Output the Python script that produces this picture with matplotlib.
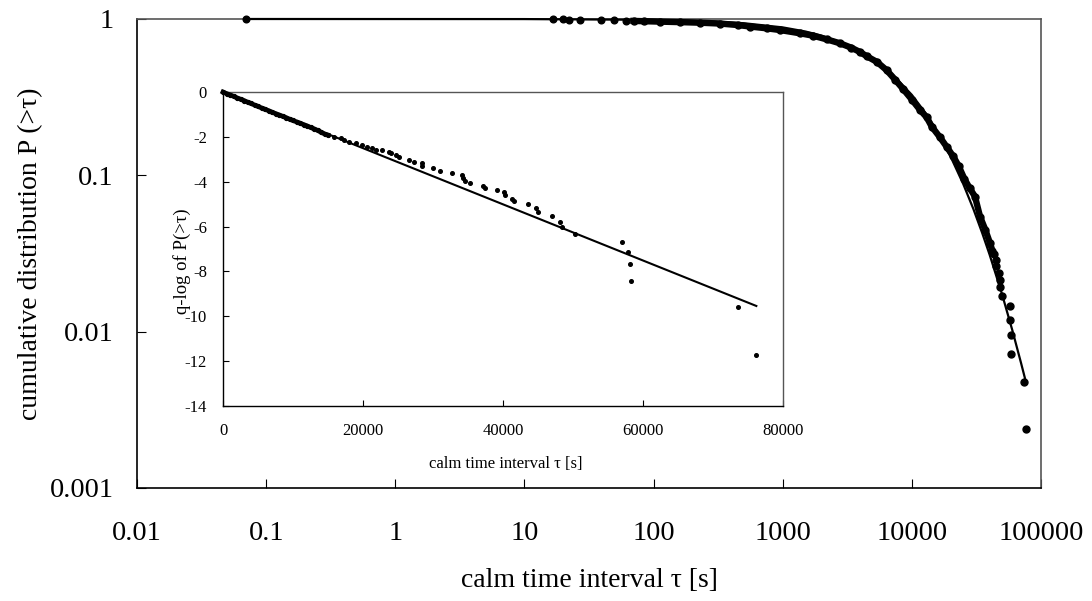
import matplotlib
matplotlib.use("Agg")
import matplotlib.pyplot as plt
from matplotlib.ticker import FixedLocator, FixedFormatter, NullLocator

plt.rcParams['font.family'] = ['Liberation Serif', 'DejaVu Serif']

# ---------------- data ----------------
# main plot: sparse points near P = 1
top_tau = [0.07, 16.5, 20, 22, 27, 39, 49, 61]
top_P = [1.0, 0.997, 0.993, 0.99, 0.99, 0.985, 0.98, 0.975]

# main plot: dense band of data points
band_tau = [70, 85, 112, 160, 229, 327, 450, 558, 750, 953, 1361, 1718, 2200,
            2780, 3400, 3970, 4470, 5375, 6386, 7400, 8590, 10000, 11560,
            13030, 14250, 16520, 18620, 20950, 23000, 25500, 28000, 30830,
            33720, 37000, 40300, 42000]
band_P = [0.972, 0.968, 0.962, 0.955, 0.947, 0.935, 0.915, 0.895, 0.872, 0.85,
          0.81, 0.782, 0.74, 0.699, 0.655, 0.615, 0.578, 0.531, 0.47, 0.41,
          0.355, 0.305, 0.262, 0.235, 0.205, 0.175, 0.152, 0.132, 0.115,
          0.095, 0.083, 0.0731, 0.0545, 0.045, 0.0368, 0.033]

# main plot: tail points
tail_tau = [43614, 44714, 45047, 47047, 48190, 48380, 50238, 57047, 57900,
            58100, 58286, 73614, 76095]
tail_P = [0.0313, 0.0289, 0.0262, 0.0239, 0.0214, 0.0194, 0.0168, 0.0145,
          0.0119, 0.0095, 0.0072, 0.00474, 0.00238]

# main plot: fitted curve
fit_tau = [0.07, 10, 100, 300, 500, 1000, 1500, 2000, 3000, 4000, 5000, 7000,
           10000, 12500, 15000, 20000, 25000, 30000, 35000, 40000, 50000,
           60000, 70000, 76190]
fit_P = [1.0, 0.9988, 0.9876, 0.9633, 0.9397, 0.8837, 0.8317, 0.7832, 0.6962,
         0.6205, 0.5543, 0.4461, 0.3271, 0.2562, 0.2030, 0.1313, 0.0880,
         0.0607, 0.0429, 0.0311, 0.0173, 0.0102, 0.00632, 0.00481]

# inset: dense band
in_band_tau = [0, 500, 1000, 1500, 2000, 2500, 3000, 3500, 4000, 4500, 5000,
               5500, 6000, 6500, 7000, 7500, 8000, 8500, 9000, 9500, 10000,
               10500, 11000, 11500, 12000, 12500, 13000, 13500, 14000, 14500,
               15000]
in_band_q = [0.0, -0.07, -0.13, -0.19, -0.26, -0.32, -0.38, -0.45, -0.51,
             -0.58, -0.64, -0.71, -0.77, -0.83, -0.90, -0.96, -1.02, -1.08,
             -1.14, -1.21, -1.27, -1.33, -1.39, -1.45, -1.51, -1.58, -1.64,
             -1.71, -1.79, -1.87, -1.92]

# inset: scattered points
in_tau = [15857, 16810, 17286, 18000, 18952, 19905, 20619, 21333, 21810,
          22762, 23714, 23952, 24667, 25143, 26571, 27286, 28476, 28381,
          30000, 30952, 32762, 34095, 34286, 34500, 35286, 37143, 37400,
          39190, 40095, 40300, 41238, 41571, 43614, 44714, 45047, 47047,
          48190, 48380, 50238, 57047, 57900, 58100, 58286, 73614, 76095]
in_q = [-1.99, -2.07, -2.14, -2.22, -2.29, -2.37, -2.44, -2.51, -2.59, -2.59,
        -2.66, -2.74, -2.81, -2.89, -3.04, -3.11, -3.18, -3.30, -3.41, -3.51,
        -3.59, -3.71, -3.85, -3.97, -4.06, -4.17, -4.27, -4.36, -4.46, -4.58,
        -4.75, -4.85, -5.00, -5.16, -5.36, -5.55, -5.79, -6.01, -6.32, -6.70,
        -7.13, -7.68, -8.42, -9.57, -11.74]

# inset: fitted straight line
in_fit_tau = [0, 76190]
in_fit_q = [0.0, -9.54]

# ticks
main_xticks = [0.01, 0.1, 1, 10, 100, 1000, 10000, 100000]
main_xlabels = ["0.01", "0.1", "1", "10", "100", "1000", "10000", "100000"]
main_yticks = [0.001, 0.01, 0.1, 1]
main_ylabels = ["0.001", "0.01", "0.1", "1"]
in_xticks = [0, 20000, 40000, 60000, 80000]
in_xlabels = ["0", "20000", "40000", "60000", "80000"]
in_yticks = [0, -2, -4, -6, -8, -10, -12, -14]
in_ylabels = ["0", "-2", "-4", "-6", "-8", "-10", "-12", "-14"]

# ---------------- figure ----------------
W, H = 1092, 601
fig = plt.figure(figsize=(W / 100, H / 100), dpi=100)
fig.patch.set_facecolor('white')

def rect(l, t, r, b):
    return [l / W, 1 - b / H, (r - l) / W, (b - t) / H]

ax = fig.add_axes(rect(137, 19, 1041, 488))
ax.set_xscale('log')
ax.set_yscale('log')
ax.set_xlim(0.01, 100000)
ax.set_ylim(0.001, 1)

ax.plot(fit_tau, fit_P, color='black', lw=1.6, zorder=3, clip_on=False)
ax.plot(band_tau, band_P, color='black', lw=4.6, marker='o', ms=5.0,
        mec='black', mfc='black', zorder=4, clip_on=False)
ax.plot(top_tau, top_P, ls='none', marker='o', ms=4.8, color='black',
        zorder=4, clip_on=False)
ax.plot(tail_tau, tail_P, ls='none', marker='o', ms=5.0, color='black',
        zorder=4, clip_on=False)

ax.xaxis.set_major_locator(FixedLocator(main_xticks))
ax.xaxis.set_major_formatter(FixedFormatter(main_xlabels))
ax.yaxis.set_major_locator(FixedLocator(main_yticks))
ax.yaxis.set_major_formatter(FixedFormatter(main_ylabels))
ax.xaxis.set_minor_locator(NullLocator())
ax.yaxis.set_minor_locator(NullLocator())
ax.tick_params(axis='both', direction='in', length=6.5, width=0.8,
               labelsize=20.5)
ax.tick_params(axis='x', pad=24)
ax.tick_params(axis='y', pad=17)
for s in ['left', 'bottom']:
    ax.spines[s].set_color('black')
    ax.spines[s].set_linewidth(1.2)
for s in ['top', 'right']:
    ax.spines[s].set_color('#555555')
    ax.spines[s].set_linewidth(1.2)

ax.set_xlabel("calm time interval τ [s]", fontsize=20)
ax.set_ylabel("cumulative distribution P (>τ)", fontsize=20)
ax.xaxis.set_label_coords(0.501, -0.171)
ax.yaxis.set_label_coords(-0.104, 0.5)

# ---------------- inset ----------------
ins = fig.add_axes(rect(223, 92, 783, 406))
ins.set_facecolor('white')
ins.set_xlim(0, 80000)
ins.set_ylim(-14, 0)
ins.plot(in_fit_tau, in_fit_q, color='black', lw=1.5, zorder=3)
ins.plot(in_band_tau, in_band_q, color='black', lw=3.4, marker='o', ms=2.8,
         zorder=4, clip_on=False)
ins.plot(in_tau, in_q, ls='none', marker='o', ms=2.6, color='black',
         zorder=4)

ins.xaxis.set_major_locator(FixedLocator(in_xticks))
ins.xaxis.set_major_formatter(FixedFormatter(in_xlabels))
ins.yaxis.set_major_locator(FixedLocator(in_yticks))
ins.yaxis.set_major_formatter(FixedFormatter(in_ylabels))
ins.tick_params(axis='both', direction='in', length=4.5, width=0.8,
                labelsize=12)
ins.tick_params(axis='x', pad=12)
ins.tick_params(axis='y', pad=11.5)
for s in ['left', 'bottom']:
    ins.spines[s].set_color('black')
    ins.spines[s].set_linewidth(1.0)
for s in ['top', 'right']:
    ins.spines[s].set_color('#555555')
    ins.spines[s].set_linewidth(1.0)

ins.set_xlabel("calm time interval τ [s]", fontsize=12)
ins.set_ylabel("q-log of P(>τ)", fontsize=13.5)
ins.xaxis.set_label_coords(0.505, -0.16)
ins.yaxis.set_label_coords(-0.058, 0.46)

fig.savefig("out.png", dpi=100)
